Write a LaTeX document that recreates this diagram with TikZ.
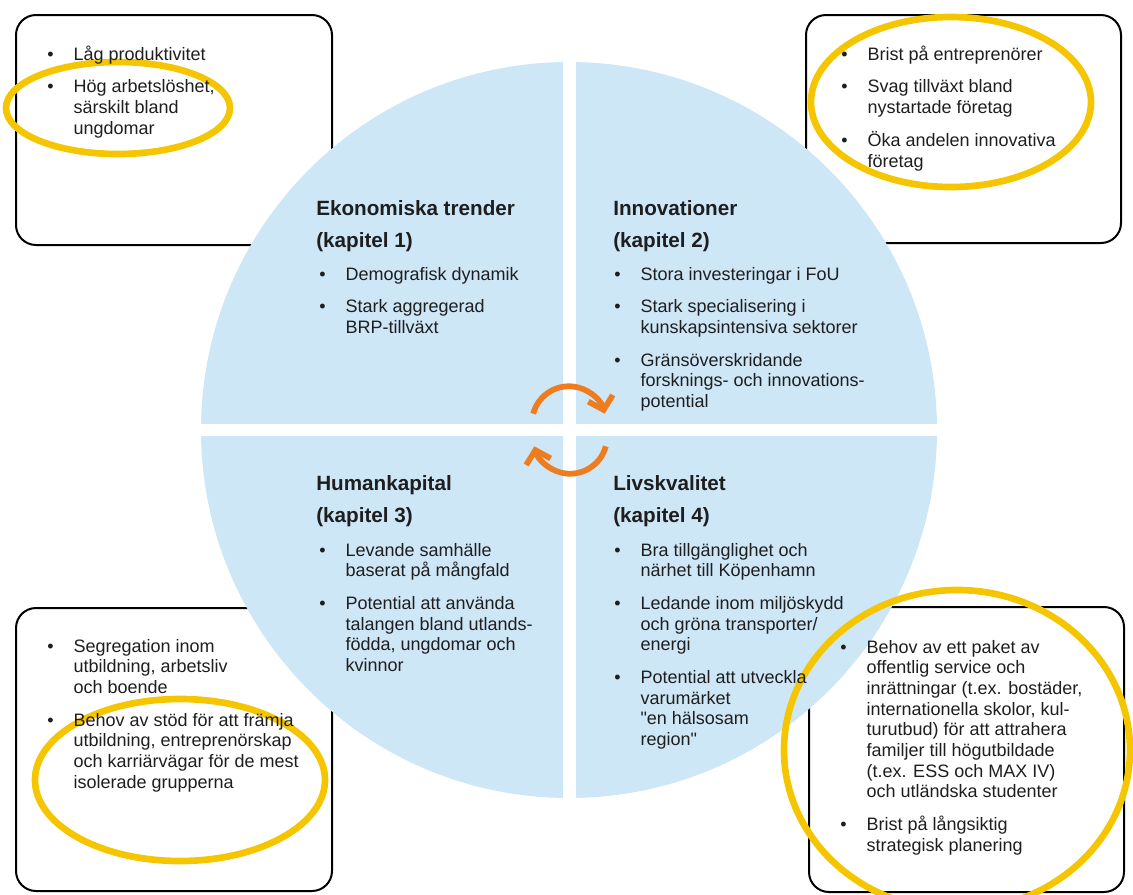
\documentclass[tikz,border=0pt]{standalone}
\usepackage{fontspec}
\setmainfont{Liberation Sans}
\usetikzlibrary{arrows.meta}
\definecolor{qblue}{RGB}{206,231,247}
\definecolor{hlyellow}{RGB}{245,198,0}
\definecolor{cycorange}{RGB}{238,125,32}
\definecolor{txtgray}{RGB}{30,30,30}
\newcommand{\blist}[1]{\begin{tabular}[t]{@{}l@{\hspace{15pt}}l@{}}#1\end{tabular}}
\newcommand{\hlines}[1]{\begin{tabular}[t]{@{}l@{}}#1\end{tabular}}
\begin{document}
\begin{tikzpicture}[x=0.75pt, y=0.75pt,
    box/.style={draw=black, line width=1.5pt, rounded corners=15pt},
    ring/.style={draw=hlyellow, line width=5pt},
    cyc/.style={draw=cycorange, line width=4.3pt, -{Straight Barb[length=9pt,width=19pt]}},
    hd/.style={anchor=base west, inner sep=0pt, text=txtgray, font=\bfseries\fontsize{15.5}{24}\selectfont},
    lst/.style={anchor=base west, inner sep=0pt, text=txtgray, font=\fontsize{13.5}{15.5}\selectfont}]
    \useasboundingbox (0,0) rectangle (1133,-894);
    \draw[box] (16,-15) rectangle (332,-245);
    \draw[box] (806,-15) rectangle (1121,-243);
    \draw[box] (16,-608) rectangle (332,-891);
    \draw[box] (809,-607) rectangle (1124,-892);
    \fill[qblue] (569,-430) circle [radius=368];
    \fill[white] (563,-55) rectangle (576,-805);
    \fill[white] (195,-424) rectangle (945,-436);
    \draw[ring] (118,-108) ellipse [x radius=112, y radius=46];
    \draw[ring] (951,-102) ellipse [x radius=140, y radius=85];
    \draw[ring] (180,-780) ellipse [x radius=145, y radius=81];
    \draw[ring] (957,-750) ellipse [x radius=173, y radius=160];
    \node[lst] (low) at (47,-60) {\blist{\textbullet & Låg produktivitet\\[9pt]
        \textbullet & Hög arbetslöshet,\\ & särskilt bland\\ & ungdomar}};
    \node[lst] (entr) at (841,-60) {\blist{\textbullet & Brist på entreprenörer\\[9pt]
        \textbullet & Svag tillväxt bland\\ & nystartade företag\\[9pt]
        \textbullet & Öka andelen innovativa\\ & företag}};
    \node[lst] (segr) at (47,-652) {\blist{\textbullet & Segregation inom\\ & utbildning, arbetsliv\\ & och boende\\[9pt]
        \textbullet & Behov av stöd för att främja\\ & utbildning, entreprenörskap\\ & och karriärvägar för de mest\\ & isolerade grupperna}};
    \node[lst] (serv) at (840,-653) {\blist{\textbullet & Behov av ett paket av\\ & offentlig service och\\ & inrättningar (t.ex. bostäder,\\ & internationella skolor, kul-\\ & turutbud) för att attrahera\\ & familjer till högutbildade\\ & (t.ex. ESS och MAX IV)\\ & och utländska studenter\\[9pt]
        \textbullet & Brist på långsiktig\\ & strategisk planering}};
    \node[hd] (eko) at (316,-215) {\hlines{Ekonomiska trender\\(kapitel 1)}};
    \node[lst] (ekol) at (319,-280) {\blist{\textbullet & Demografisk dynamik\\[9pt]
        \textbullet & Stark aggregerad\\ & BRP-tillväxt}};
    \node[hd] (inn) at (613,-215) {\hlines{Innovationer\\(kapitel 2)}};
    \node[lst] (innl) at (614,-280) {\blist{\textbullet & Stora investeringar i FoU\\[9pt]
        \textbullet & Stark specialisering i\\ & kunskapsintensiva sektorer\\[9pt]
        \textbullet & Gränsöverskridande\\ & forsknings- och innovations-\\ & potential}};
    \node[hd] (hum) at (316,-490) {\hlines{Humankapital\\(kapitel 3)}};
    \node[lst] (huml) at (319,-556) {\blist{\textbullet & Levande samhälle\\ & baserat på mångfald\\[9pt]
        \textbullet & Potential att använda\\ & talangen bland utlands-\\ & födda, ungdomar och\\ & kvinnor}};
    \node[hd] (liv) at (613,-490) {\hlines{Livskvalitet\\(kapitel 4)}};
    \node[lst] (livl) at (614,-556) {\blist{\textbullet & Bra tillgänglighet och\\ & närhet till Köpenhamn\\[9pt]
        \textbullet & Ledande inom miljöskydd\\ & och gröna transporter/\\ & energi\\[9pt]
        \textbullet & Potential att utveckla\\ & varumärket\\ & \textquotedbl en hälsosam\\ & region\textquotedbl}};
    \coordinate (up) at (533.2,-413.7);
    \coordinate (dn) at (605.8,-446.3);
    \draw[cyc] (up) arc [start angle=165, end angle=15, radius=37];
    \draw[cyc] (dn) arc [start angle=-15, end angle=-165, radius=37];
\end{tikzpicture}
\end{document}
